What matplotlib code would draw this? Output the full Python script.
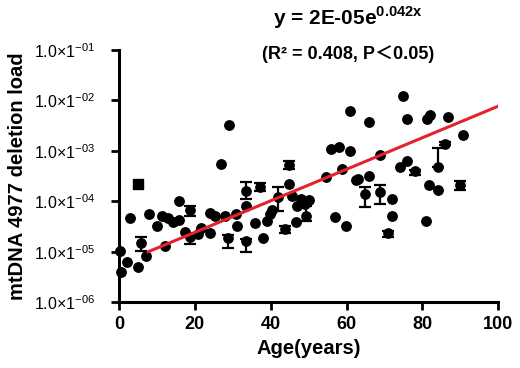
import numpy as np
import matplotlib
matplotlib.use("Agg")
import matplotlib.pyplot as plt
from matplotlib.ticker import FixedLocator, FixedFormatter, NullLocator

plt.rcParams['font.family'] = ['Liberation Sans', 'Noto Sans CJK SC', 'DejaVu Sans']
plt.rcParams['mathtext.fontset'] = 'custom'
plt.rcParams['mathtext.rm'] = 'Liberation Sans'
plt.rcParams['mathtext.bf'] = 'Liberation Sans:bold'

# single samples (age, deletion load)
ages = [0.2, 0.5, 2.0, 2.8, 5.1, 7.0, 7.9, 10.1, 11.2, 12.1, 13.0, 14.3, 15.8, 15.8,
        17.3, 20.8, 21.7, 23.9, 23.9, 25.3, 26.9, 27.9, 28.9, 30.8, 31.0, 33.6,
        35.8, 38.0, 38.9, 39.8, 40.3, 44.9, 46.8, 47.0, 48.0, 49.0, 50.0, 45.5,
        54.7, 55.8, 58.1, 58.7, 57.0, 59.8, 60.9, 61.0, 62.5, 63.0, 66.0, 66.0,
        68.8, 71.9, 71.9, 74.0, 75.0, 75.9, 76.0, 81.0, 81.1, 82.0, 81.8, 84.0,
        86.8, 90.8]
loads = [1.05e-5, 4.0e-6, 6.3e-6, 4.6e-5, 5.0e-6, 8.1e-6, 5.6e-5, 3.2e-5, 5.0e-5,
         1.3e-5, 4.6e-5, 3.8e-5, 1.0e-4, 4.2e-5, 2.5e-5, 2.2e-5, 3.0e-5, 5.9e-5,
         2.3e-5, 5.0e-5, 5.6e-4, 5.0e-5, 3.3e-3, 5.5e-5, 3.2e-5, 7.9e-5, 3.7e-5,
         1.9e-5, 4.0e-5, 5.5e-5, 6.8e-5, 2.2e-4, 3.8e-5, 7.9e-5, 1.1e-4, 8.9e-5,
         1.05e-4, 1.25e-4, 3.1e-4, 1.1e-3, 1.2e-3, 4.4e-4, 4.8e-5, 3.2e-5, 6.3e-3,
         1.0e-3, 2.6e-4, 2.8e-4, 3.8e-3, 3.2e-4, 8.1e-4, 1.1e-4, 5.0e-5, 4.7e-4,
         1.2e-2, 4.2e-3, 6.3e-4, 4.0e-5, 4.2e-3, 5.2e-3, 2.1e-4, 1.7e-4, 4.7e-3,
         2.1e-3]

# samples with repeated measurements (mean, low, high)
err_ages = [5.9, 18.7, 18.7, 28.8, 33.6, 33.6, 37.1, 42.0, 44.9, 43.8, 49.4,
            64.8, 68.8, 71.0, 78.0, 84.0, 86.0, 89.9]
err_mean = [1.5e-5, 6.8e-5, 2.0e-5, 1.9e-5, 1.6e-4, 1.6e-5, 1.9e-4, 1.2e-4, 5.2e-4,
            2.8e-5, 5.0e-5, 1.4e-4, 1.5e-4, 2.3e-5, 4.0e-4, 4.7e-4, 1.4e-3, 2.1e-4]
err_low = [1.05e-5, 5.0e-5, 1.4e-5, 1.2e-5, 1.1e-4, 1.0e-5, 1.6e-4, 6.3e-5, 4.3e-4,
           2.4e-5, 4.0e-5, 7.8e-5, 8.9e-5, 2.0e-5, 3.4e-4, 4.7e-4, 1.3e-3, 1.7e-4]
err_high = [2.0e-5, 8.1e-5, 2.2e-5, 2.1e-5, 2.4e-4, 1.8e-5, 2.3e-4, 1.9e-4, 6.3e-4,
            3.3e-5, 8.0e-5, 1.9e-4, 2.1e-4, 2.6e-5, 4.2e-4, 1.15e-3, 1.5e-3, 2.5e-4]

sq_age = [5.1]
sq_load = [2.2e-4]

# fitted line as drawn
fit_a = 5.74e-6
fit_b = 0.072
fit_x = [7.7, 100.5]

ytick_vals = [1e-6, 1e-5, 1e-4, 1e-3, 1e-2, 1e-1]
ytick_labels = ['1.0×1$^{-06}$', '1.0×1$^{-05}$', '1.0×1$^{-04}$',
                '1.0×1$^{-03}$', '1.0×1$^{-02}$', '1.0×1$^{-01}$']

fig = plt.figure(figsize=(5.2, 3.68), dpi=100)
ax = fig.add_axes([0.229, 0.179, 0.729, 0.685])

ax.scatter(ages, loads, s=46, color='black', zorder=3, clip_on=False)
m = np.array(err_mean)
yerr = [m - np.array(err_low), np.array(err_high) - m]
ax.errorbar(err_ages, err_mean, yerr=yerr, fmt='o', color='black', markersize=6.7,
            capsize=4, elinewidth=1.6, capthick=1.6, zorder=3)
ax.scatter(sq_age, sq_load, s=46, marker='s', color='black', zorder=3)

xx = np.linspace(fit_x[0], fit_x[1], 100)
ax.plot(xx, fit_a * np.exp(fit_b * xx), color='#e3232c', lw=2.2, zorder=4)

ax.set_yscale('log')
ax.set_xlim(0, 100)
ax.set_ylim(1e-6, 1e-1)
ax.yaxis.set_major_locator(FixedLocator(ytick_vals))
ax.yaxis.set_major_formatter(FixedFormatter(ytick_labels))
ax.yaxis.set_minor_locator(NullLocator())
ax.set_xticks([0, 20, 40, 60, 80, 100])

for s in ['top', 'right']:
    ax.spines[s].set_visible(False)
for s in ['left', 'bottom']:
    ax.spines[s].set_linewidth(2.2)
ax.tick_params(width=2, length=6, direction='out')
ax.tick_params(axis='x', labelsize=13, pad=4)
ax.tick_params(axis='y', labelsize=11.5, pad=11)
for lab in ax.get_xticklabels():
    lab.set_fontweight('bold')

ax.set_xlabel('Age(years)', fontsize=14.5, fontweight='bold', labelpad=4)
ax.set_ylabel('mtDNA 4977 deletion load', fontsize=14.5, fontweight='bold')
ax.yaxis.set_label_coords(-0.243, 0.5)

fig.text(0.668, 0.953, 'y = 2E-05e$^{\\mathbf{0.042x}}$', fontsize=15, fontweight='bold',
         ha='center', va='center')
fig.text(0.67, 0.852, '(R² = 0.408, P\uff1c0.05)', fontsize=13, fontweight='bold',
         ha='center', va='center')

fig.savefig('out.png', dpi=100)
